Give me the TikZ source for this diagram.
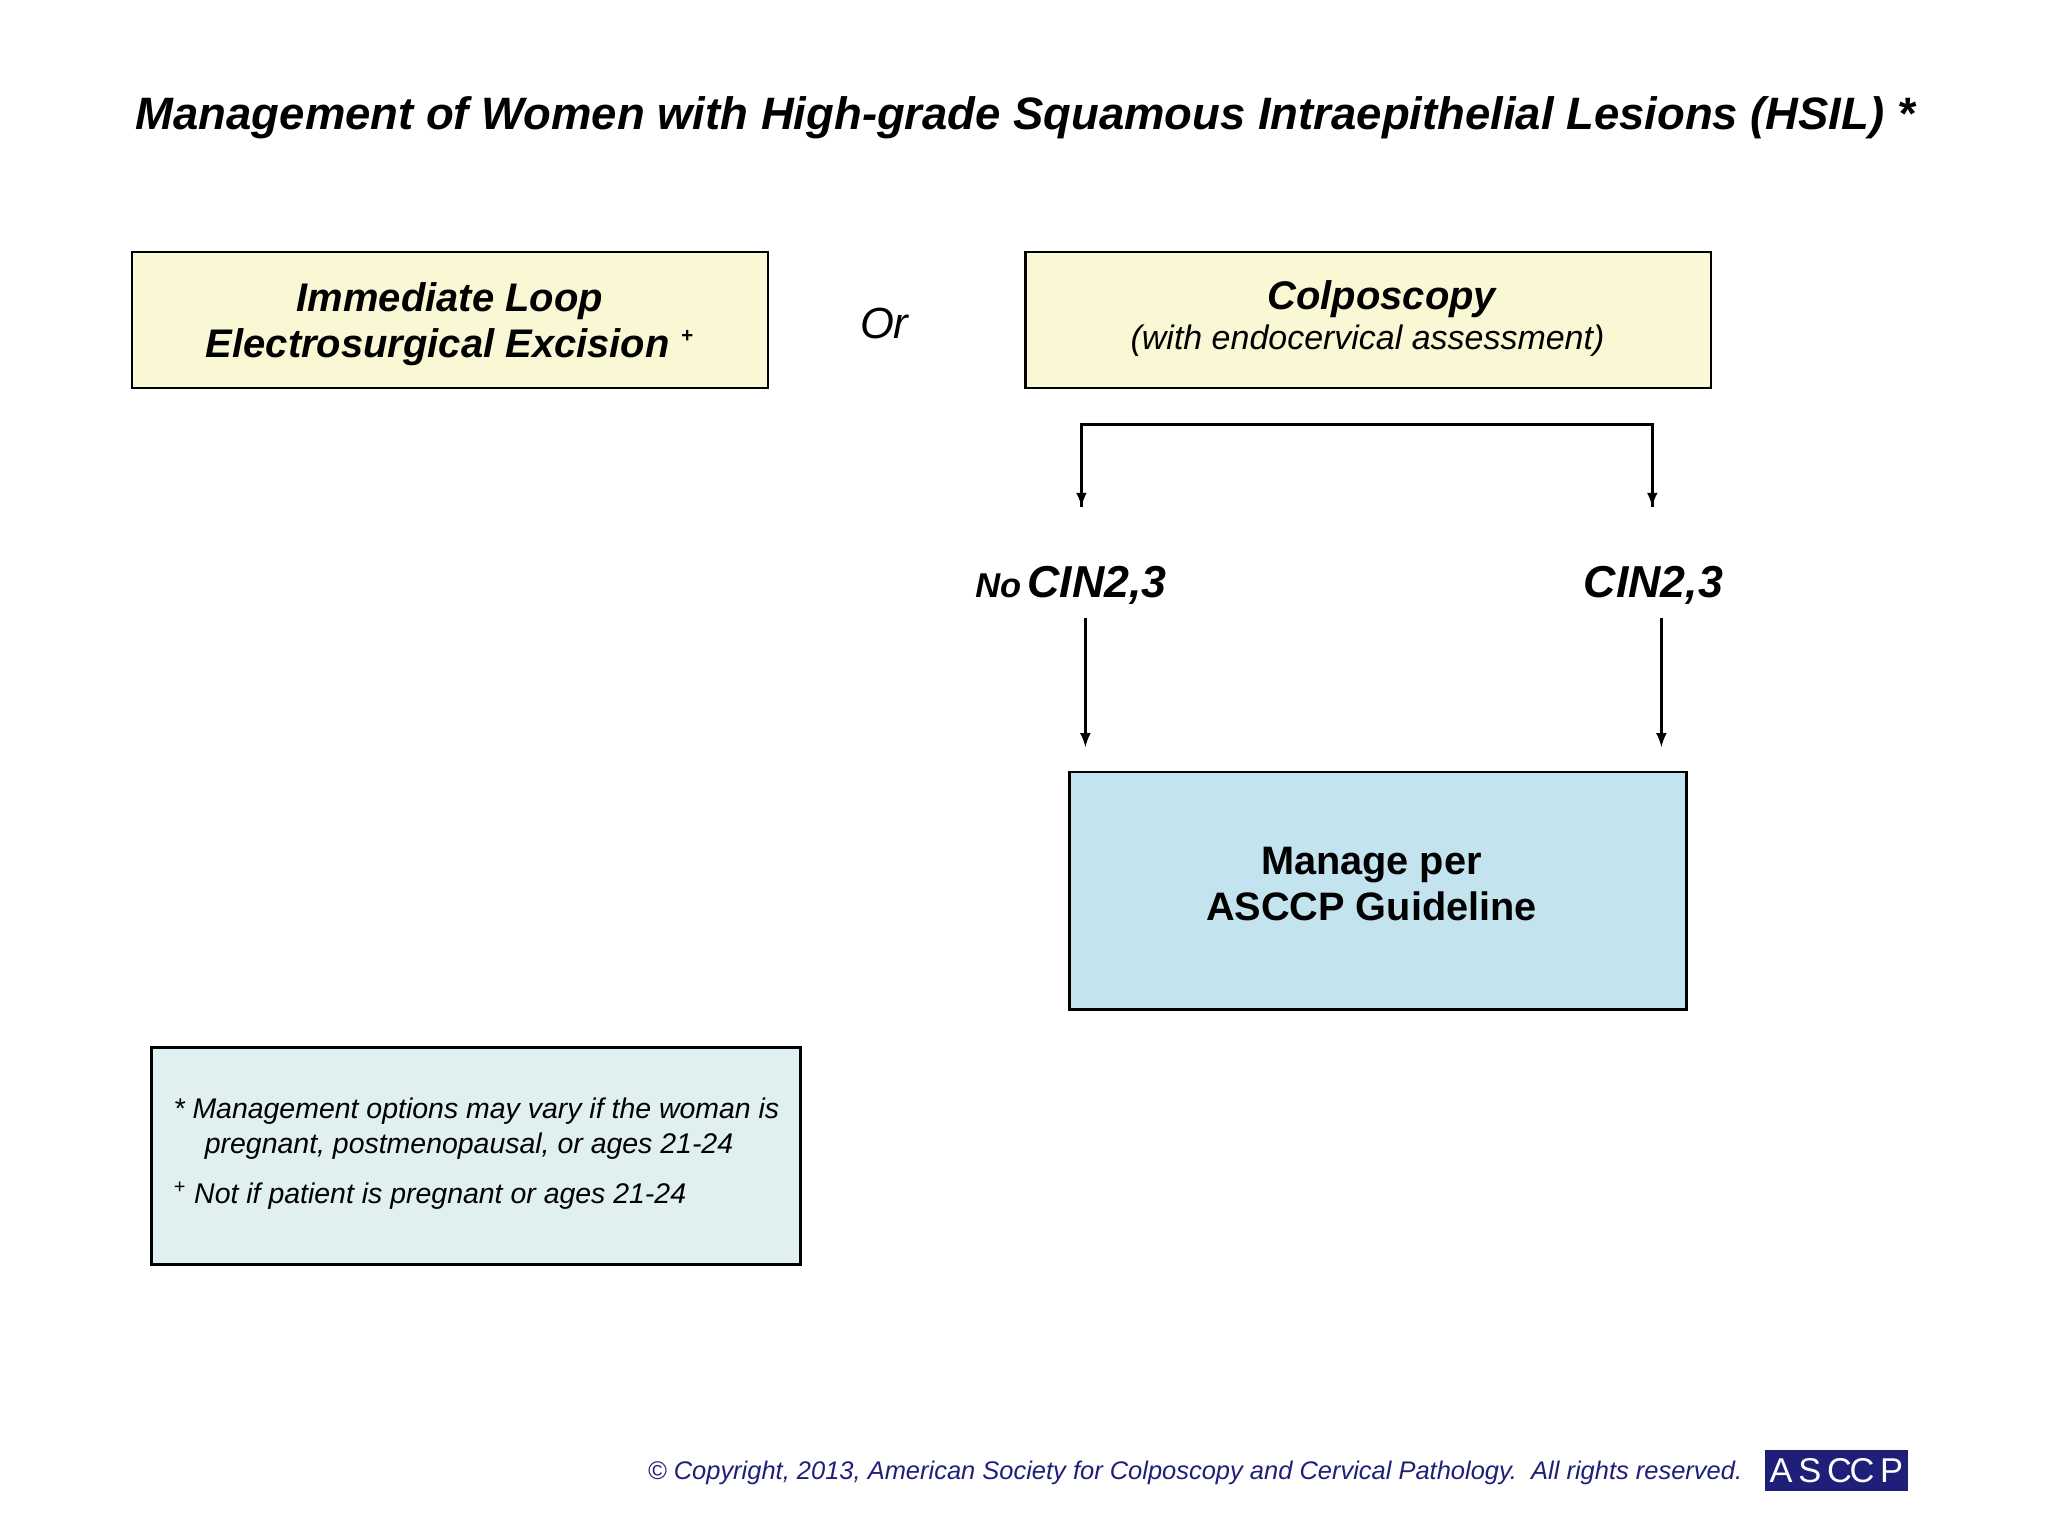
\documentclass[tikz,border=0pt]{standalone}
\usepackage{fontspec}
\setmainfont{Liberation Sans}
\definecolor{boxyellow}{HTML}{FAF8D4}
\definecolor{boxblue}{HTML}{C3E3EE}
\definecolor{notebg}{HTML}{E0EFEF}
\definecolor{navy}{HTML}{1F1F7A}
\tikzset{
  every path/.style={line width=1pt},
  box/.style={draw=black, line width=1.2pt, inner sep=0pt, align=center},
  arr/.style={-latex, line width=1.1pt},
  lbl/.style={font=\bfseries\itshape\fontsize{19.5}{22}\selectfont}
}
\begin{document}
\begin{tikzpicture}[x=0.02cm,y=-0.02cm]
\useasboundingbox (0,0) rectangle (1568,1176);
\node (title) at (785,90) {\bfseries\itshape\fontsize{19.8}{23}\selectfont Management of Women with High-grade Squamous Intraepithelial Lesions (HSIL) *};
\node[box, fill=boxyellow, minimum width=487*0.02cm, minimum height=104*0.02cm] (leep) at (344.5,245) {};
\node[align=center, font=\bfseries\itshape\fontsize{17.4}{20}\selectfont] (leeptxt) at (344.5,248) {Immediate Loop\\ Electrosurgical Excision \textsuperscript{\small +}};
\node (or) at (677,248) {\itshape\fontsize{19}{22}\selectfont Or};
\node[box, fill=boxyellow, minimum width=525*0.02cm, minimum height=104*0.02cm] (colpo) at (1047.5,245) {};
\node[font=\bfseries\itshape\fontsize{17.4}{20}\selectfont] (colpotitle) at (1058,229) {Colposcopy};
\node[font=\itshape\fontsize{14.8}{17}\selectfont] (colposub) at (1047,261) {(with endocervical assessment)};
\coordinate (bl) at (828,325);
\coordinate (br) at (1265,325);
\coordinate (blend) at (828,388);
\coordinate (brend) at (1265,388);
\draw[line width=1.3pt] (blend) -- (bl) -- (br) -- (brend);
\draw[arr] (bl) -- (blend);
\draw[arr] (br) -- (brend);
\node (nocin) at (820,448) {\bfseries\itshape{\fontsize{15}{18}\selectfont No} \fontsize{19.5}{22}\selectfont CIN2,3};
\node[lbl] (cin) at (1266,448) {CIN2,3};
\node[box, fill=boxblue, minimum width=472*0.02cm, minimum height=182*0.02cm] (manage) at (1055,682) {};
\node[align=center, font=\bfseries\fontsize{17.3}{20}\selectfont] (managetxt) at (1050,677) {Manage per\\ ASCCP Guideline};
\coordinate (a1s) at (831,473);
\coordinate (a1e) at (831,572);
\coordinate (a2s) at (1272,473);
\coordinate (a2e) at (1272,572);
\draw[arr] (a1s) -- (a1e);
\draw[arr] (a2s) -- (a2e);
\node[box, fill=notebg, minimum width=497*0.02cm, minimum height=166*0.02cm] (note) at (364.5,885) {};
\node[anchor=north west, align=left, font=\itshape\fontsize{12.4}{15}\selectfont, inner sep=0pt] (notetxt) at (132,840) {* Management options may vary if the woman is\\ \hspace*{1.1em}pregnant, postmenopausal, or ages 21-24\\[7pt] \textsuperscript{+} Not if patient is pregnant or ages 21-24};
\node[text=navy, font=\itshape\fontsize{11.1}{13}\selectfont] (copy) at (915,1128) {© Copyright, 2013, American Society for Colposcopy and Cervical Pathology.\ \ All rights reserved.};
\node[fill=navy, text=white, minimum width=110*0.02cm, minimum height=31*0.02cm, inner sep=0pt, font=\fontsize{15}{16}\selectfont] (logo) at (1406,1126) {A\,S\,C\kern-1pt C\,P};
\end{tikzpicture}
\end{document}
